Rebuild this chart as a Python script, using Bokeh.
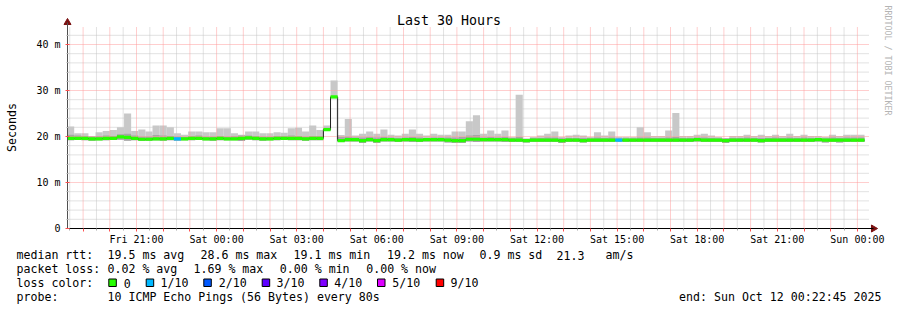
import math
from bokeh.plotting import figure
from bokeh.models import Range1d, FixedTicker
from bokeh.core.properties import value
from bokeh.embed import file_html
from bokeh.resources import INLINE

# ---------------- data ----------------
FIRST_BIN_HOUR = 18.4          # Fri 18:24, hours since Fri 00:00
BIN_HOURS = 16 / 60            # 16 minute consolidation step

median_ms = [19.6,19.6,19.6,19.5,19.5,19.6,19.6,19.9,19.8,19.6,
             19.4,19.4,19.5,19.5,19.6,19.5,19.5,19.6,19.6,19.5,
             19.5,19.6,19.5,19.5,19.6,19.7,19.6,19.5,19.5,19.6,
             19.6,19.6,19.6,19.5,19.6,19.6,21.5,28.6,19.1,19.3,
             19.3,19.1,19.3,19.1,19.3,19.3,19.2,19.3,19.3,19.2,
             19.3,19.3,19.3,19.2,19.1,19.1,19.4,19.4,19.3,19.3,
             19.3,19.3,19.2,19.2,19.1,19.2,19.2,19.2,19.2,19.1,
             19.2,19.2,19.1,19.2,19.2,19.2,19.2,19.2,19.2,19.2,
             19.2,19.2,19.2,19.2,19.2,19.2,19.2,19.2,19.3,19.2,
             19.2,19.2,19.1,19.2,19.2,19.2,19.2,19.1,19.2,19.2,
             19.2,19.2,19.2,19.2,19.2,19.3,19.2,19.2,19.2,19.2,
             19.2,19.2]

max_ms = [22.2,20.7,20.7,20.1,20.9,21.2,21.4,22.0,25.0,21.2,
          21.5,21.1,22.4,22.4,22.0,20.7,20.4,21.1,21.1,20.9,
          20.9,21.8,21.8,20.7,20.4,21.1,21.1,20.7,20.7,20.9,
          20.8,21.8,21.9,21.1,22.4,21.4,22.4,32.2,20.3,23.8,
          20.2,20.6,21.1,20.6,21.5,20.4,20.2,20.6,21.5,20.6,
          20.2,20.6,20.4,20.4,21.1,21.1,23.3,24.6,20.6,21.3,
          20.6,21.3,19.9,29.1,19.5,19.9,20.2,20.6,21.1,19.9,
          20.2,20.4,20.2,19.9,20.9,20.2,21.1,19.9,19.9,19.9,
          22.0,20.9,20.1,20.1,21.3,25.1,20.1,20.1,20.4,20.6,
          20.2,19.9,19.6,20.1,20.1,20.4,20.1,20.4,20.1,20.4,
          20.1,20.6,20.1,20.4,20.1,20.1,19.9,20.4,20.1,20.4,
          20.4,20.4]

upper_mid_ms = [20.4,20.2,20.1,20.0,20.1,20.2,20.1,20.5,20.6,20.2,
                20.0,20.0,20.3,20.2,20.1,20.0,19.9,20.1,20.2,20.0,
                20.0,20.1,20.0,20.1,20.2,20.2,20.1,20.0,20.0,20.1,
                20.1,20.2,20.1,20.0,20.1,20.1,21.9,28.7,19.9,20.0,
                19.8,19.8,19.9,19.8,19.9,19.8,19.7,19.8,19.9,19.8,
                19.7,19.8,19.8,19.8,19.8,19.9,20.2,20.3,19.8,19.9,
                19.8,19.9,19.7,19.9,19.5,19.7,19.7,19.8,19.8,19.6,
                19.7,19.7,19.7,19.6,19.8,19.7,19.8,19.6,19.6,19.6,
                19.8,19.8,19.7,19.7,19.8,19.9,19.7,19.7,19.8,19.8,
                19.7,19.6,19.6,19.7,19.7,19.8,19.7,19.7,19.7,19.8,
                19.7,19.8,19.7,19.8,19.7,19.7,19.6,19.8,19.7,19.8,
                19.8,19.8]

min_ms = [19.2,19.3,19.2,19.1,19.2,19.2,19.3,19.3,19.1,19.2,
          19.0,19.1,19.2,19.1,19.2,19.1,19.2,19.2,19.3,19.2,
          19.1,19.2,19.2,19.2,19.0,19.3,19.2,19.1,19.2,19.2,
          19.3,19.2,19.2,19.1,19.2,19.2,21.2,28.3,18.8,18.9,
          18.9,18.6,18.9,18.6,18.9,18.9,18.8,18.9,18.8,18.8,
          18.9,18.9,18.9,18.7,18.6,18.6,18.9,18.8,18.9,18.9,
          18.9,18.8,18.8,18.8,18.7,18.8,18.8,18.8,18.8,18.6,
          18.8,18.8,18.7,18.8,18.8,18.8,18.8,18.8,18.8,18.8,
          18.8,18.8,18.8,18.8,18.8,18.8,18.8,18.8,18.9,18.8,
          18.8,18.8,18.6,18.8,18.8,18.8,18.8,18.7,18.8,18.8,
          18.8,18.8,18.8,18.8,18.8,18.9,18.7,18.8,18.7,18.8,
          18.8,18.8]

loss_index = [0] * 112
loss_index[15] = 1
loss_index[77] = 1

loss_colors = ["#26ff00", "#00b8ff", "#0059ff", "#5e00ff", "#7e00ff", "#dd00ff", "#ff0000"]
loss_labels = ["0", "1/10", "2/10", "3/10", "4/10", "5/10", "9/10"]

x_tick_hours = [21, 24, 27, 30, 33, 36, 39, 42, 45, 48]
x_tick_labels = ["Fri 21:00", "Sat 00:00", "Sat 03:00", "Sat 06:00", "Sat 09:00",
                 "Sat 12:00", "Sat 15:00", "Sat 18:00", "Sat 21:00", "Sun 00:00"]
y_ticks = [0, 10, 20, 30, 40]
y_tick_labels = ["0", "10 m", "20 m", "30 m", "40 m"]

title_text = "Last 30 Hours"
y_title = "Seconds"
watermark = "RRDTOOL / TOBI OETIKER"
row_rtt = [("median rtt:", 16), ("19.5 ms avg", 107), ("28.6 ms max", 200), ("19.1 ms min", 293),
           ("19.2 ms now", 386.5), ("0.9 ms sd", 479), ("21.3", 556), ("am/s", 605)]
row_loss = [("packet loss:", 16), ("0.02 % avg", 107), ("1.69 % max", 193), ("0.00 % min", 279.3),
            ("0.00 % now", 365.7)]
row_color_title = [("loss color:", 16)]
color_box_px = [108.3, 145.7, 203.3, 261.7, 319.3, 377.0, 435.7]
color_label_px = [123.3, 160.0, 218.3, 276.0, 333.7, 391.7, 450.0]
row_probe = [("probe:", 16), ("10 ICMP Echo Pings (56 Bytes) every 80s", 107)]
end_text = "end: Sun Oct 12 00:22:45 2025"

# ---------------- layout (pixel geometry of the RRD canvas) ----------------
W, H = 897, 310
FL, FR, FT, FB = 67, 868, 27, 228        # plot area
PXH = (FR - FL) / 30.0                   # pixels per hour
H0 = 21 - (136 - FL) / PXH               # hour at the left edge of plot area
PXMS = 4.6                               # pixels per ms
YTOP = (FB - FT) / PXMS

def px2x(px):
    return H0 + (px - FL) / PXH

def py2y(py):
    return (FB - py) / PXMS

MONO = "DejaVu Sans Mono"

p = figure(width=W, height=H, x_range=Range1d(px2x(0), px2x(W)), y_range=Range1d(py2y(H), py2y(0)),
           output_backend="svg", toolbar_location=None, title=None,
           min_border=0, min_border_left=0, min_border_right=0, min_border_top=0, min_border_bottom=0,
           background_fill_color="white", border_fill_color="white", outline_line_color=None)
p.xgrid.visible = False
p.ygrid.visible = False

# ---- grid (restricted to the plot area) ----
grid_hours = [h for h in range(19, 49)]
half_hours = [h + 0.5 for h in range(18, 49) if H0 < h + 0.5 < H0 + 30]
minor_y = [v for v in range(2, 44, 2) if v % 10 != 0]
GRID_MINOR = "#c4c4c4"
GRID_MAJOR = "#ff9c9c"
p.segment(x0=half_hours, y0=[0] * len(half_hours), x1=half_hours, y1=[YTOP] * len(half_hours),
          line_color=GRID_MINOR, line_dash="1 1", line_width=1)
p.segment(x0=[H0] * len(minor_y), y0=minor_y, x1=[H0 + 30] * len(minor_y), y1=minor_y,
          line_color=GRID_MINOR, line_dash="1 1", line_width=1)

# ---- smoke ----
n = len(median_ms)
left = [FIRST_BIN_HOUR + i * BIN_HOURS for i in range(n)]
right = [l + BIN_HOURS for l in left]
left_c = [max(l, H0) for l in left]
p.quad(left=left_c, right=right, bottom=min_ms, top=max_ms, fill_color="#c8c8c8", line_color=None)
p.quad(left=left_c, right=right, bottom=min_ms, top=upper_mid_ms, fill_color="#a6a6a6", line_color=None)

# major grid drawn over the smoke
maj_h = [h for h in grid_hours]
p.segment(x0=maj_h, y0=[0] * len(maj_h), x1=maj_h, y1=[YTOP] * len(maj_h),
          line_color=GRID_MAJOR, line_dash="1 1", line_width=1)
maj_y = [v for v in y_ticks if v > 0]
p.segment(x0=[H0] * len(maj_y), y0=maj_y, x1=[H0 + 30] * len(maj_y), y1=maj_y,
          line_color=GRID_MAJOR, line_dash="1 1", line_width=1)

# ---- median line and loss-coloured band ----
sx = left_c + [right[-1]]
sy = median_ms + [median_ms[-1]]
p.step(sx, sy, mode="after", line_color="#202020", line_width=1)
half = 0.35
p.quad(left=left_c, right=right, bottom=[m - half for m in median_ms], top=[m + half for m in median_ms],
       fill_color=[loss_colors[k] for k in loss_index], line_color=None)

# ---- axes (fixed in place inside the canvas) ----
xa = p.xaxis[0]
xa.fixed_location = 0
xa.bounds = (H0, px2x(FR + 5))
xa.ticker = FixedTicker(ticks=grid_hours, minor_ticks=half_hours)
overrides = {h: "" for h in grid_hours}
for h, lab in zip(x_tick_hours, x_tick_labels):
    overrides[h] = lab
xa.major_label_overrides = overrides
xa.axis_line_color = "black"
xa.major_tick_line_color = "#ff5050"
xa.major_tick_out = 3
xa.major_tick_in = 0
xa.minor_tick_line_color = "#aaaaaa"
xa.minor_tick_out = 2
xa.minor_tick_in = 0
xa.major_label_standoff = 2
xa.major_label_text_font = MONO
xa.major_label_text_font_size = "10px"
xa.major_label_text_color = "black"

ya = p.yaxis[0]
ya.fixed_location = H0
ya.bounds = (0, py2y(FT - 5))
ya.ticker = FixedTicker(ticks=y_ticks, minor_ticks=minor_y)
ya.major_label_overrides = {t: l for t, l in zip(y_ticks, y_tick_labels)}
ya.axis_line_color = "#505050"
ya.major_tick_line_color = "#ff5050"
ya.major_tick_out = 2
ya.major_tick_in = 2
ya.minor_tick_line_color = "#aaaaaa"
ya.minor_tick_out = 1
ya.minor_tick_in = 1
ya.major_label_standoff = 5
ya.major_label_text_font = MONO
ya.major_label_text_font_size = "10px"
ya.major_label_text_color = "black"

# arrow heads
p.scatter(x=[H0], y=[py2y(FT - 5)], marker="triangle", size=7, fill_color="#7a1010", line_color="#7a1010")
p.scatter(x=[px2x(FR + 5)], y=[0], marker="triangle", angle=-math.pi / 2, size=7,
          fill_color="#7a1010", line_color="#7a1010")

# ---- texts ----
def txt(items, py, size="11.6px", align="left", color="black", angle=0.0):
    p.text(x=[px2x(x) for _, x in items], y=[py2y(py)] * len(items), text=[t for t, _ in items],
           text_font=value(MONO), text_font_size=value(size), text_align=align,
           text_baseline="middle", text_color=color, angle=angle)

txt([(title_text, 448.5)], 19.5, size="13.3px", align="center")
p.text(x=[px2x(11)], y=[py2y(127)], text=[y_title], text_font=value(MONO), text_font_size=value("11.6px"),
       text_align="center", text_baseline="middle", angle=math.pi / 2, text_color="black")
p.text(x=[px2x(887)], y=[py2y(5)], text=[watermark], text_font=value(MONO), text_font_size=value("8.3px"),
       text_align="left", text_baseline="middle", angle=-math.pi / 2, text_color="#b4b4b4")

ROWS_Y = [254.5, 268.5, 282.5, 296.5]
txt(row_rtt, ROWS_Y[0])
txt(row_loss, ROWS_Y[1])
txt(row_color_title, ROWS_Y[2])
txt(list(zip(loss_labels, color_label_px)), ROWS_Y[2])
txt(row_probe, ROWS_Y[3])
txt([(end_text, 881)], ROWS_Y[3], align="right")

p.quad(left=[px2x(b) for b in color_box_px], right=[px2x(b + 7.5) for b in color_box_px],
       bottom=[py2y(286)] * len(color_box_px), top=[py2y(278.5)] * len(color_box_px),
       fill_color=loss_colors, line_color="black", line_width=1)

open("out.html", "w").write(file_html(p, INLINE))
